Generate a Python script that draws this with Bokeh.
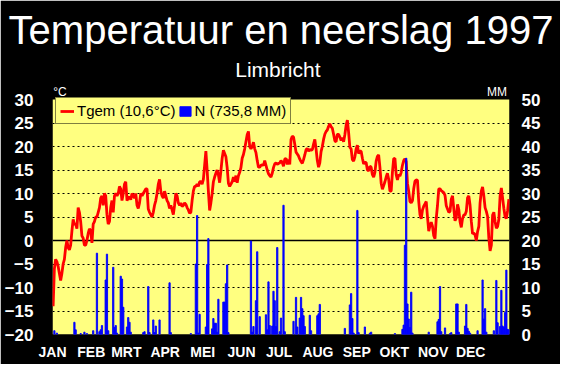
import numpy as np
from bokeh.plotting import figure
from bokeh.models import (Range1d, LinearAxis, FixedTicker, Span, Label, Legend,
                          LegendItem, ColumnDataSource, BoxAnnotation)
from bokeh.embed import file_html
from bokeh.resources import INLINE

# ---------------- data ----------------
months = ["JAN", "FEB", "MRT", "APR", "MEI", "JUN", "JUL", "AUG", "SEP", "OKT", "NOV", "DEC"]
month_start_day = [0, 31, 59, 90, 120, 151, 181, 212, 243, 273, 304, 334]

temp_jan = [-14, -6, -4, -4.5, -5.5, -7, -8.5, -7, -5, -4, -1.5, 0, -1.5, -2, -1, 2, 4.5, 3.5,
            3.5, 2.5, 7, 6, 4, 1, 0.5, -1, -1, 0, 1.5, 2.5, 2]
temp_feb = [-0.5, 3.5, 4, 5, 5, 6, 7, 9, 9.5, 7.5, 10, 9.5, 5.5, 3.5, 4, 7, 8.5, 6, 9.5, 10,
            9.5, 10, 11.5, 11, 8.5, 10, 12, 12.5]
temp_mar = [8.5, 9, 9.3, 8.7, 10, 9.5, 9, 10, 7.5, 6.8, 8, 10, 9.5, 10, 10.5, 11, 11, 6.7, 6,
            5.5, 5, 6, 7.5, 8.5, 10, 12, 13, 10.5, 9.5, 9, 10.5]
temp_apr = [9.5, 8.5, 8, 6.8, 7.5, 6.5, 5.5, 7.5, 10, 9.5, 8, 7.5, 8, 7.2, 7.5, 8, 7.7, 7, 6.5,
            5.8, 6, 8.5, 10.5, 11.5, 11.5, 12, 11.5, 12.5, 12.5, 12]
temp_may = [13, 16, 19, 15, 10.5, 6.4, 8, 10, 12.5, 13.5, 14.3, 15, 14, 12.3, 14.8, 17.5, 19.2,
            18.5, 17.8, 15.5, 12.2, 11.5, 12, 12.5, 13.5, 12.5, 13.8, 12.3, 13.8, 14.5, 15.5]
temp_jun = [17.5, 18.3, 19.5, 21, 22.5, 23.2, 20, 19.5, 20, 20.9, 19.5, 18.7, 17, 15.6, 15.6, 16,
            16.1, 16, 17, 16, 15, 14.2, 13.8, 13.5, 14.3, 15.5, 16.3, 16.5, 16.2, 16.4]
temp_jul = [16.5, 17, 16.6, 15.8, 17.3, 17.5, 16.2, 17.2, 16.2, 21.5, 22.2, 22, 20.5, 18.8, 18.4,
            18, 17.3, 16.8, 16.4, 17.2, 18.2, 19.3, 19.6, 19, 19.4, 19.2, 19.3, 20.5, 21.5, 19.5, 17]
temp_aug = [15.6, 16.5, 18.9, 20, 21.5, 22.6, 23.2, 23.5, 24.3, 24.8, 24.2, 23.9, 22.6, 21.2, 21,
            22.6, 22.6, 22, 21.3, 21.9, 21, 22.5, 24.5, 25.6, 23, 19.8, 19.5, 17.2, 16.9, 17.8, 19.5]
temp_sep = [20.3, 18.5, 19, 19, 17.5, 16.3, 16.6, 16.6, 15, 14.8, 15.8, 15.6, 14, 13.5, 14.5, 16.9,
            17.9, 18.2, 15.6, 12.2, 10.9, 11.7, 12.5, 13.5, 14.3, 13, 10.5, 10.5, 14.5, 17.4]
temp_oct = [17.5, 14, 12.9, 14, 13.7, 14.5, 16, 17, 17.4, 16.8, 12.2, 10.5, 8.3, 8, 8.5, 11, 12.6,
            12.9, 12.8, 8.3, 5.5, 4.6, 6.5, 7.3, 7.8, 8.3, 5, 2, 3.2, 3.9, 3]
temp_nov = [1, 0.4, 4.7, 7.5, 11, 11, 10.6, 10.4, 10.2, 9.6, 7.4, 6.7, 6, 6.2, 8.8, 9.5, 6.8, 4.2,
            4.8, 7.7, 6.6, 4, 2.8, 4.7, 5.4, 5.5, 6.2, 9.1, 9.5, 7.5]
temp_dec = [4.1, 1.4, 1.6, 1.2, 0, 1.9, 3, 8, 10.5, 11.4, 9.5, 7, 6.2, 5.1, 0.5, -2.2, -1, 5.4, 6,
            4, 2.6, 3, 4.5, 9.5, 11.2, 9, 6.8, 5, 4.7, 6.4, 8.8]

rain_day = [1, 3, 17, 18, 22, 25, 27, 32, 35, 37, 38, 39, 42, 43, 44, 48, 49, 50, 51, 54, 55, 56,
            59, 60, 61, 62, 72, 73, 76, 77, 80, 81, 82, 85, 93, 94, 110, 114, 115, 116, 117,
            122, 123, 124, 127, 128, 129, 130, 131, 132, 136, 137, 138, 139, 140,
            158, 159, 160, 162, 163, 165, 170, 171, 172, 173, 175, 176, 177, 178, 179, 181,
            182, 184, 185, 192, 194, 195, 197, 198, 199, 200, 201, 205, 206, 211, 212, 213,
            233, 237, 238, 239, 240, 243, 244, 249, 253, 254,
            273, 279, 280, 281, 282, 283, 284, 285, 286, 287,
            300, 307, 308, 309, 310, 313, 317, 318, 322, 323, 324, 329, 330, 331, 332, 333,
            339, 343, 344, 345, 346, 352, 354, 355, 357, 358, 359, 360, 361, 362, 363, 364]
rain_mm = [0.8, 0.3, 2.6, 1.0, 0.2, 0.5, 0.2, 0.8, 17.3, 0.6, 1.0, 1.9, 11.6, 17.1, 0.8, 14.3, 1.5,
           1.9, 0.3, 12.4, 11.8, 5.8, 1.6, 3.6, 2.6, 0.5, 0.4, 0.6, 10.2, 0.4, 3.1, 0.4, 1.8, 3.1,
           11.0, 0.4, 0.2, 15.0, 25.3, 0.3, 4.3,
           1.6, 14.9, 20.4, 1.2, 3.4, 2.4, 2.4, 0.5, 7.5, 6.9, 6.9, 10.8, 14.8, 0.4,
           19.9, 0.5, 1.7, 7.2, 17.6, 3.8, 4.2, 1.0, 11.2, 1.9, 1.8, 9.2, 7.2, 1.7, 18.5, 0.6,
           3.5, 27.5, 0.6, 2.8, 7.9, 1.6, 3.5, 7.9, 5.5, 4.0, 1.7, 4.1, 0.8, 4.0, 4.4, 6.4,
           1.3, 6.3, 8.7, 3.4, 0.3, 26.4, 0.4, 1.6, 0.3, 0.5,
           0.2, 1.1, 2.0, 19.0, 37.5, 6.5, 3.3, 1.5, 9.0, 0.3,
           0.5, 2.7, 3.2, 10.2, 0.6, 1.4, 0.2, 0.4, 6.5, 6.5, 0.5, 1.8, 6.4, 1.3, 0.7, 0.3,
           0.8, 11.6, 3.3, 5.5, 0.5, 0.8, 11.5, 2.5, 1.7, 9.4, 1.8, 1.5, 4.7, 13.7, 1.1, 1.0]

left_ticks = [-20, -15, -10, -5, 0, 5, 10, 15, 20, 25, 30]
right_ticks = [0, 5, 10, 15, 20, 25, 30, 35, 40, 45, 50]

# ---------------- build ----------------
temp = (temp_jan + temp_feb + temp_mar + temp_apr + temp_may + temp_jun + temp_jul +
        temp_aug + temp_sep + temp_oct + temp_nov + temp_dec)
n_days = len(temp)
day_x = np.arange(n_days) + 0.5
rain_x = np.array(rain_day) + 0.5

temp_src = ColumnDataSource(dict(x=day_x, t=temp))
rain_src = ColumnDataSource(dict(x=rain_x, mm=rain_mm))

YELLOW = "#FFFF80"
FONT = "Liberation Sans"
T_BOTTOM, T_TOP = -20, 30   # chart area (°C)
HEADROOM = 10               # black header band inside the frame, holding sub-title & unit labels

p = figure(width=560, height=364, output_backend="svg", toolbar_location=None,
           x_range=Range1d(0, 365), y_range=Range1d(T_BOTTOM, T_TOP + HEADROOM),
           min_border_left=52, min_border_right=51, min_border_top=52, min_border_bottom=30,
           background_fill_color="black", border_fill_color="black",
           outline_line_color="black", outline_line_width=2)
p.extra_y_ranges = {"mm": Range1d(0, 50 + HEADROOM)}

p.title.text = "Temperatuur en neerslag 1997"
p.title.align = "center"
p.title.text_color = "white"
p.title.text_font = FONT
p.title.text_font_style = "normal"
p.title.text_font_size = "40px"
p.title.standoff = 2

# yellow chart area from -20 to 30 °C (the frame above it stays black)
p.add_layout(BoxAnnotation(bottom=T_BOTTOM, top=T_TOP, fill_color=YELLOW, fill_alpha=1.0,
                           line_color=None, level="image"))

p.xgrid.visible = False
p.ygrid.ticker = FixedTicker(ticks=[-15, -10, -5, 5, 10, 15, 20, 25])
p.ygrid.grid_line_color = "black"
p.ygrid.grid_line_dash = "2 3"
p.ygrid.grid_line_width = 1

p.add_layout(Span(location=0, dimension="width", line_color="black", line_width=1.5,
                  level="underlay"))

r_line = p.line("x", "t", source=temp_src, line_color="#FF0000", line_width=2.8)
r_bar = p.vbar(x="x", top="mm", bottom=0, width=1.0, source=rain_src, y_range_name="mm",
               fill_color="#0000FF", line_color="#0000FF", line_width=0.9)


def style_axis(ax, size):
    ax.axis_line_color = None
    ax.major_tick_line_color = None
    ax.minor_tick_line_color = None
    ax.major_label_text_color = "white"
    ax.major_label_text_font = FONT
    ax.major_label_text_font_style = "bold"
    ax.major_label_text_font_size = size


ax_b = p.xaxis[0]
ax_b.ticker = FixedTicker(ticks=month_start_day)
ax_b.major_label_overrides = {d: m for d, m in zip(month_start_day, months)}
style_axis(ax_b, "14px")
ax_b.major_label_standoff = 3

ax_l = p.yaxis[0]
ax_l.ticker = FixedTicker(ticks=left_ticks)
style_axis(ax_l, "17px")
ax_l.major_label_standoff = 13

ax_r = LinearAxis(y_range_name="mm", ticker=FixedTicker(ticks=right_ticks))
style_axis(ax_r, "17px")
ax_r.major_label_standoff = 6
p.add_layout(ax_r, "right")

# texts in the header band
p.add_layout(Label(x=180, y=36.4, text="Limbricht", text_color="white",
                   text_font=FONT, text_font_size="21px", text_align="center",
                   text_baseline="alphabetic"))
p.add_layout(Label(x=0.5, y=31.6, text="°C", text_color="white",
                   text_font=FONT, text_font_size="12px", text_align="left",
                   text_baseline="alphabetic"))
p.add_layout(Label(x=363, y=31.6, text="MM", text_color="white",
                   text_font=FONT, text_font_size="12px", text_align="right",
                   text_baseline="alphabetic"))

legend = Legend(items=[LegendItem(label="Tgem (10,6°C)", renderers=[r_line]),
                       LegendItem(label="N (735,8 MM)", renderers=[r_bar])],
                location=(3, 210), orientation="horizontal")
legend.padding = 4
legend.spacing = 2
legend.label_standoff = 3
legend.glyph_width = 14
legend.glyph_height = 12
legend.label_height = 13
legend.label_text_font = FONT
legend.label_text_font_size = "15px"
legend.label_text_color = "black"
legend.border_line_color = "black"
legend.border_line_width = 1
legend.background_fill_color = YELLOW
legend.background_fill_alpha = 1.0
p.add_layout(legend)

open("out.html", "w").write(file_html(p, INLINE))
